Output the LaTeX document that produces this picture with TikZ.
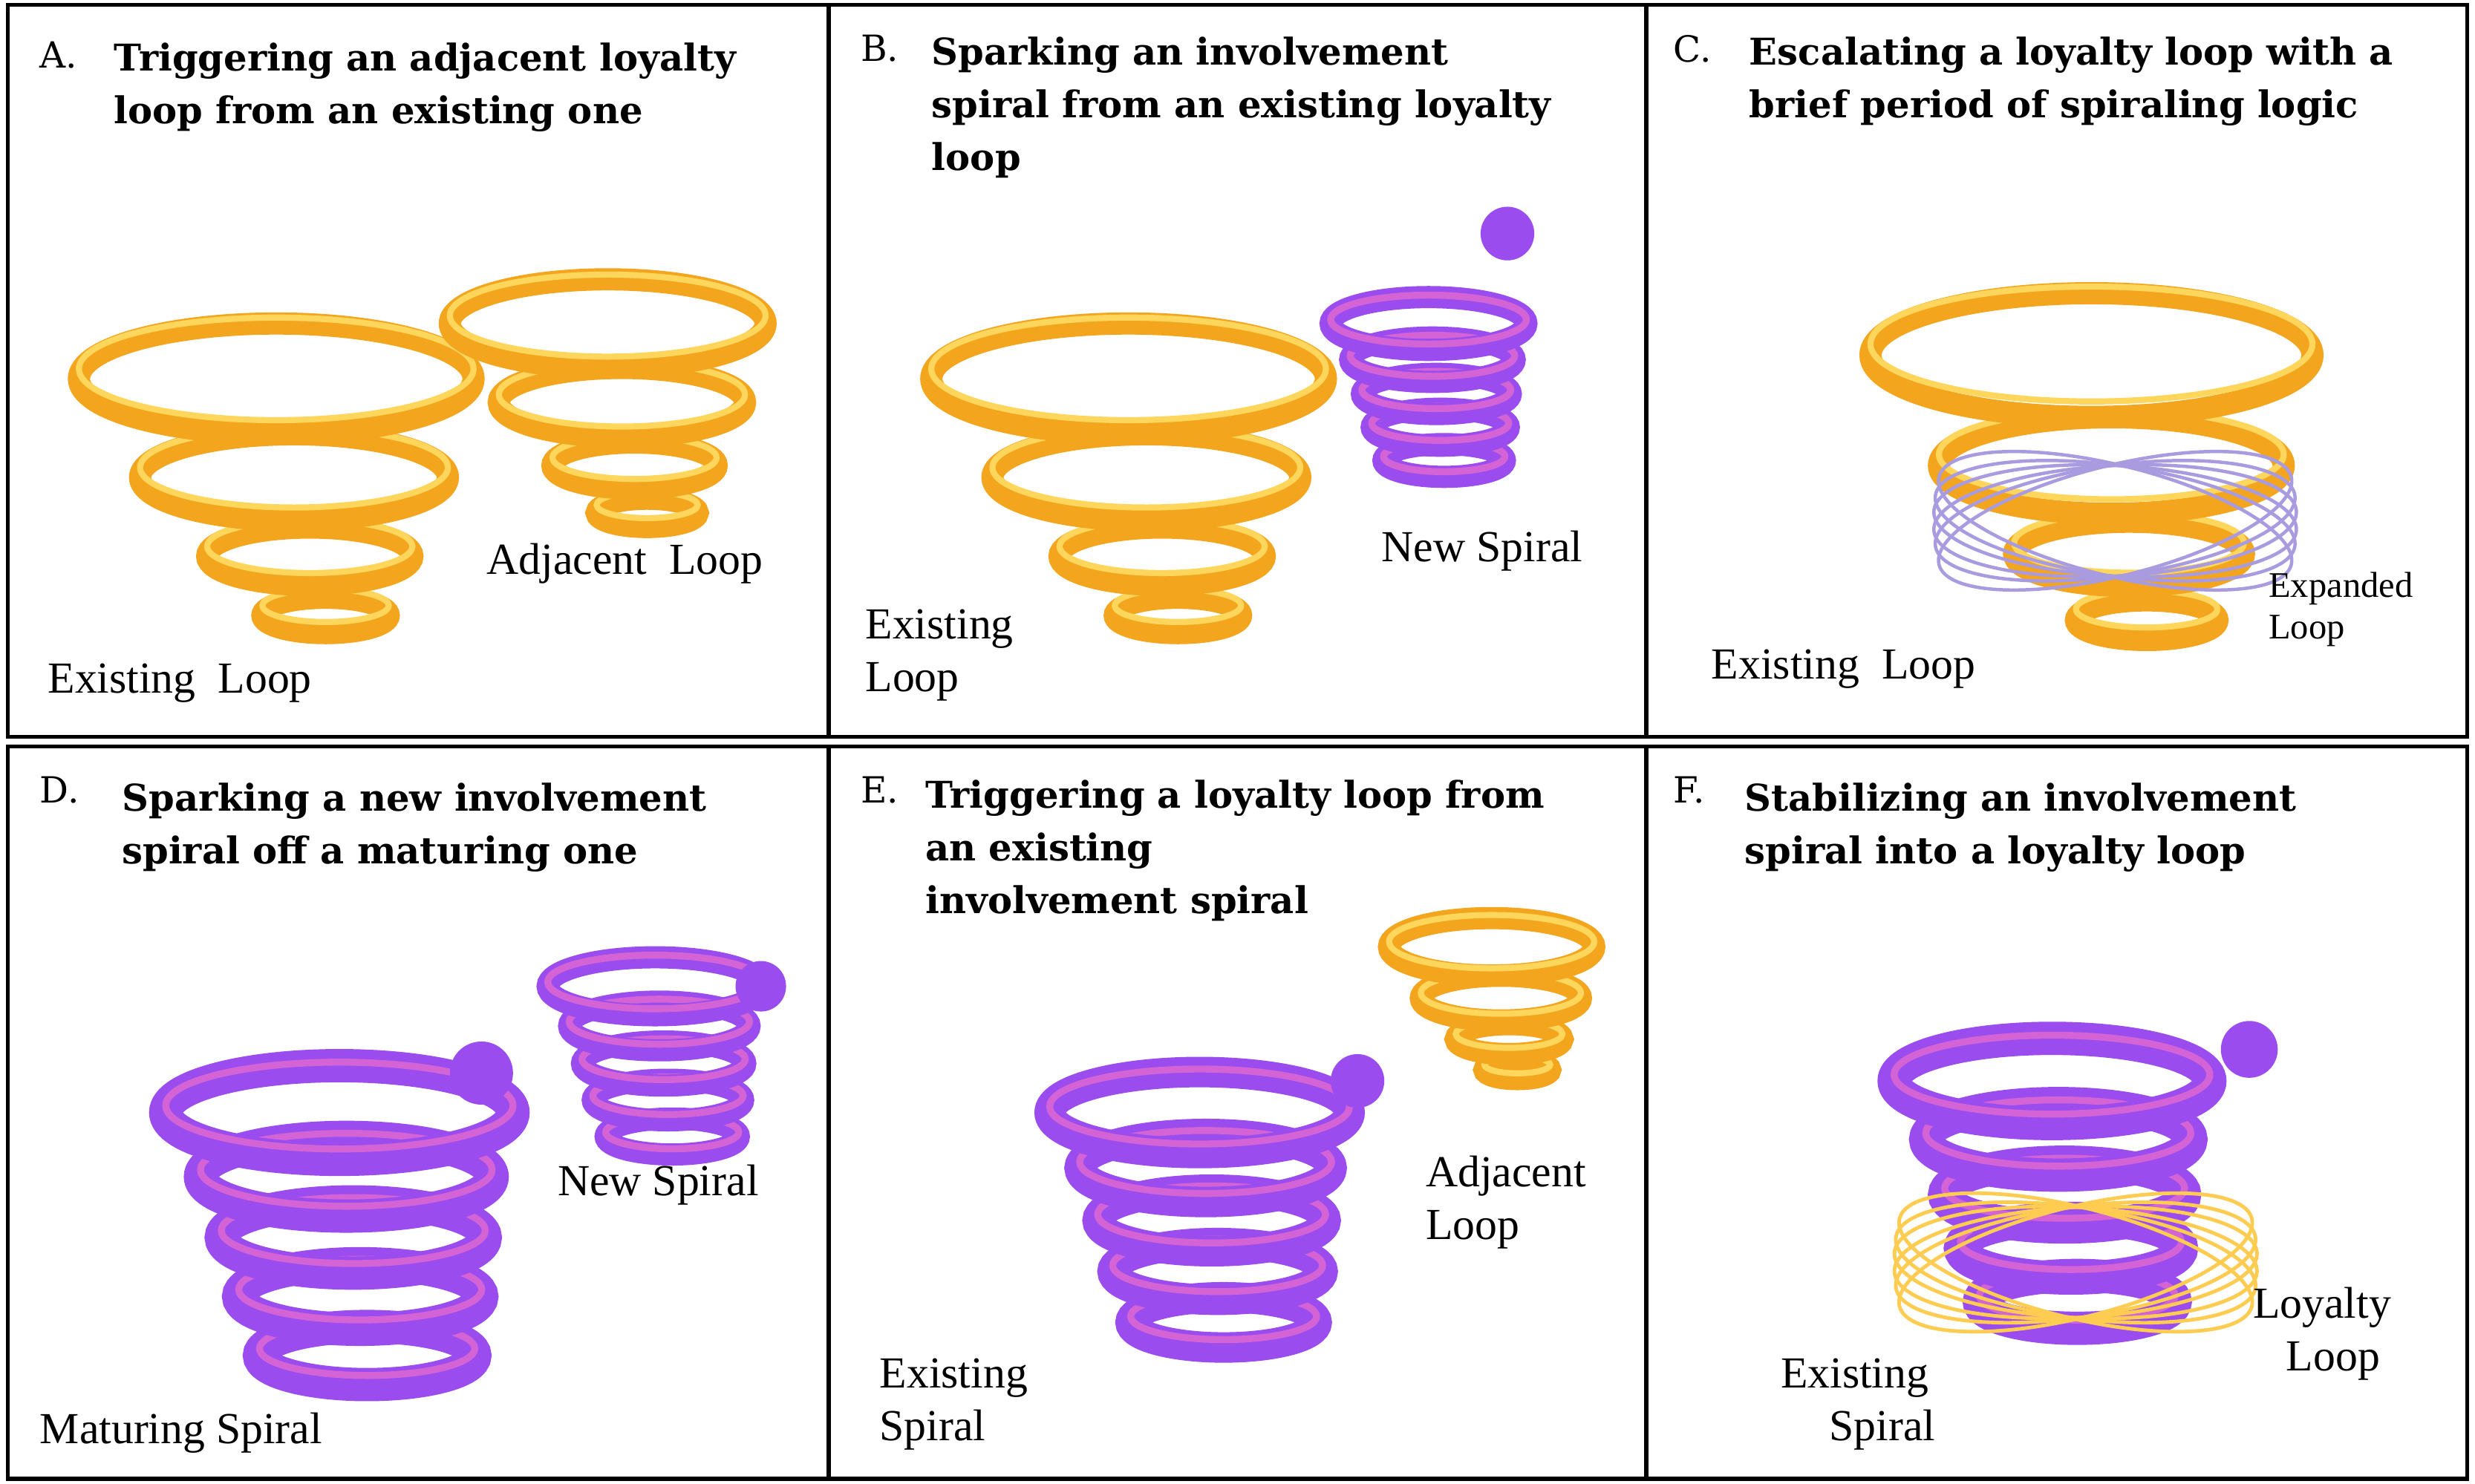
\documentclass[tikz,border=0pt]{standalone}
\usepackage{fontspec}
\setmainfont{Liberation Serif}
\newfontfamily\ttlfont{DejaVu Serif}
\definecolor{gold}{HTML}{F3A51E}
\definecolor{goldhi}{HTML}{FFD65C}
\definecolor{purp}{HTML}{9A4CEF}
\definecolor{purphi}{HTML}{C9A0FF}
\definecolor{pinkc}{HTML}{D463D6}
\definecolor{lav}{HTML}{A99BE0}
\newcommand\coilG[3]{% x y r (gold cone)
 \foreach \dx/\dy/\s in {0.25/1.2/0.32,0.17/0.9/0.52,0.09/0.5/0.78,0/0/1}{
  \draw[gold,line width=8pt] ({#1+\dx*#3},{#2+\dy*#3}) ellipse ({\s*#3} and {0.28*\s*#3});
  \draw[goldhi,line width=2.2pt] ({#1+\dx*#3},{#2+\dy*#3-0.05*#3}) ellipse ({\s*#3} and {0.26*\s*#3});}}
\newcommand\coilP[4]{% x y r lw
 \foreach \dx/\dy/\s in {0.16/1.4/0.62,0.12/1.06/0.7,0.08/0.72/0.76,0.04/0.37/0.84,0/0/1}{
  \draw[purp,line width=#4] ({#1+\dx*#3},{#2+\dy*#3}) ellipse ({\s*#3} and {0.27*\s*#3});
  \draw[pinkc,line width=2.5pt] ({#1+\dx*#3},{#2+\dy*#3-0.04*#3}) ellipse ({\s*#3} and {0.25*\s*#3});}}
\tikzset{ttl/.style={anchor=north west,align=left,font=\ttlfont\bfseries\fontsize{13.3}{19}\selectfont,inner sep=0},
 let/.style={anchor=north west,font=\ttlfont\fontsize{13}{16}\selectfont,inner sep=0},
 lab/.style={align=left,font=\fontsize{16}{19}\selectfont,inner sep=0},
 knob/.style={fill=purp,draw=none}}
\begin{document}
\begin{tikzpicture}[x=0.02cm,y=-0.02cm]
\useasboundingbox (0,0) rectangle (1568,940);
\fill[white] (0,0) rectangle (1568,940);
% panel A
\coilG{175}{240}{125}
\coilG{385}{205}{100}
\node[let] (la) at (25,26) {A.};
\node[ttl] (ta) at (72,27) {Triggering an adjacent loyalty\\loop from an existing one};
\node[lab,anchor=west] (a1) at (30,433) {Existing\ \ Loop};
\node[lab,anchor=west] (a2) at (308,357) {Adjacent\ \ Loop};
% panel B
\coilG{715}{240}{125}
\coilP{905}{205}{62}{8pt}
\fill[knob] (955,148) circle (17);
\node[let] (lb) at (545,22) {B.};
\node[ttl] (tb) at (590,23) {Sparking an involvement\\spiral from an existing loyalty\\loop};
\node[lab,anchor=west] (b1) at (548,415) {Existing\\Loop};
\node[lab,anchor=west] (b2) at (875,349) {New Spiral};
% panel C
\coilG{1325}{225}{140}
\foreach \a in {-14,-8,-3,3,8,14}{\draw[lav,line width=1.2pt,rotate around={\a:(1340,330)}] (1340,330) ellipse (115 and 35);}
\node[let] (lc) at (1060,22) {C.};
\node[ttl] (tc) at (1108,23) {Escalating a loyalty loop with a\\brief period of spiraling logic};
\node[lab,anchor=west] (c1) at (1084,424) {Existing\ \ Loop};
\node[lab,anchor=west,font=\fontsize{13}{15}\selectfont] (c2) at (1437,386) {Expanded\\Loop};
% panel D
\coilP{215}{705}{110}{12pt}
\fill[knob] (305,680) circle (20);
\coilP{415}{625}{68}{8pt}
\fill[knob] (482,625) circle (16);
\node[let] (ld) at (25,492) {D.};
\node[ttl] (td) at (77,496) {Sparking a new involvement\\spiral off a maturing one};
\node[lab,anchor=west] (d1) at (25,908) {Maturing Spiral};
\node[lab,anchor=west] (d2) at (353,751) {New Spiral};
% panel E
\coilP{760}{705}{95}{11pt}
\fill[knob] (860,685) circle (17);
\coilG{945}{600}{65}
\node[let] (le) at (545,492) {E.};
\node[ttl] (te) at (586,494) {Triggering a loyalty loop from\\an existing\\involvement spiral};
\node[lab,anchor=west] (e1) at (557,890) {Existing\\Spiral};
\node[lab,anchor=west] (e2) at (903,762) {Adjacent\\Loop};
% panel F
\coilP{1300}{685}{100}{12pt}
\fill[knob] (1425,665) circle (18);
\foreach \a in {-14,-8,-3,3,8,14}{\draw[goldhi!80!gold,line width=1.3pt,rotate around={\a:(1315,800)}] (1315,800) ellipse (115 and 35);}
\node[let] (lf) at (1060,492) {F.};
\node[ttl] (tf) at (1105,496) {Stabilizing an involvement\\spiral into a loyalty loop};
\node[lab,align=center] (f1) at (1175,890) {Existing\\\ \ \ \ \ Spiral};
\node[lab,anchor=west] (f2) at (1427,845) {Loyalty\\\ \ \ Loop};
% frames
\draw[line width=1.5pt] (5,3) rectangle (1563,467);
\draw[line width=1.5pt] (5,473) rectangle (1563,937);
\draw[line width=1.5pt] (525,3) -- (525,467) (1043,3) -- (1043,467) (525,473) -- (525,937) (1043,473) -- (1043,937);
\end{tikzpicture}
\end{document}
